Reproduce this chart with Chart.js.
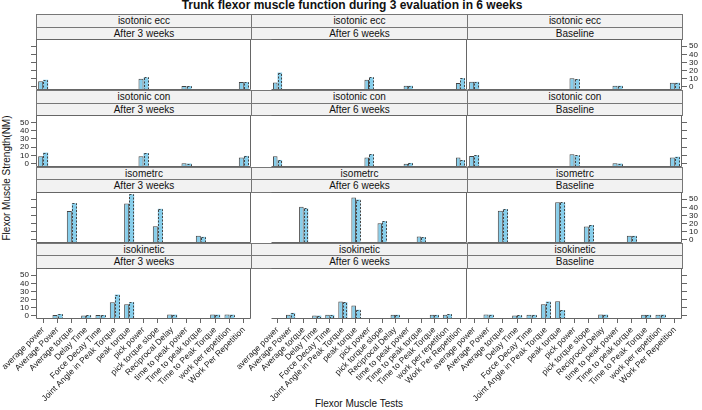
<!DOCTYPE html>
<html><head><meta charset="utf-8">
<script src="https://cdn.jsdelivr.net/npm/chart.js@4.4.0/dist/chart.umd.min.js"></script>
<style>
html,body{margin:0;padding:0;background:#fff;}
#root{position:relative;width:702px;height:410px;overflow:hidden;font-family:"Liberation Sans",Arial,sans-serif;color:#111;}
.strip{position:absolute;box-sizing:border-box;background:#f2f2f2;border:1px solid #777;font-size:10px;text-align:center;white-space:nowrap;}
.cv{position:absolute;}
.lbl{position:absolute;white-space:nowrap;text-align:center;}
</style></head>
<body><div id="root"></div>
<script>
// ---- data ----
const categories = ["average power","Average Power","Average torque","Delay Time","Force Decay Time","Joint Angle in Peak Torque","peak torque","pick power","pick torque slope","Reciprocal Delay","time to peak power","Time to peak torque","Time to Peak Torque","work per repetition","Work Per Repetition"];
const testTypes = ["isotonic ecc","isotonic con","isometrc","isokinetic"];
const evaluations = ["After 3 weeks","After 6 weeks","Baseline"];
const yTicks = [0,10,20,30,40,50];

const isotonicTests = ["average power","pick power","time to peak power","Work Per Repetition"];
const isometricTests = ["Average torque","peak torque","pick torque slope","Time to peak torque"];
const isokineticTests = ["Average Power","Delay Time","Force Decay Time","Joint Angle in Peak Torque","peak torque","Reciprocal Delay","Time to Peak Torque","work per repetition"];

// isotonic ecc
const eccAfter3_g1 = [7, 9.9, 1, 5.8];
const eccAfter3_g2 = [8.7, 11.5, 1, 5.8];
const eccAfter6_g1 = [5.4, 8.7, 1.3, 4.6];
const eccAfter6_g2 = [17.6, 11.5, 1.3, 10.7];
const eccBase_g1 = [6.2, 10.7, 1.3, 5];
const eccBase_g2 = [6.2, 9.5, 1.3, 5];
// isotonic con
const conAfter3_g1 = [9.1, 9, 0.5, 7.5];
const conAfter3_g2 = [13.5, 13, 0.3, 9.5];
const conAfter6_g1 = [9, 7.5, 0, 7.5];
const conAfter6_g2 = [4.6, 11.5, 1, 4.3];
const conBase_g1 = [9.5, 11.5, 0.5, 7.5];
const conBase_g2 = [10.3, 10, 0.3, 8.5];
// isometric
const isoAfter3_g1 = [35.4, 44.7, 16.7, 4.9];
const isoAfter3_g2 = [45, 56, 38.2, 3.7];
const isoAfter6_g1 = [40.6, 52, 20.3, 4];
const isoAfter6_g2 = [38.6, 49.6, 23, 3.3];
const isoBase_g1 = [35.8, 46.3, 16.3, 4.9];
const isoBase_g2 = [37.8, 46, 18.3, 4.9];
// isokinetic
const kinAfter3_g1 = [1, 0.3, 1, 16.8, 14.4, 1.5, 1.5, 1.5];
const kinAfter3_g2 = [2.2, 0.6, 1, 26.2, 16.8, 1.5, 1.5, 1.5];
const kinAfter6_g1 = [1.3, 0.5, 1.2, 17.6, 12.8, 1.3, 1.2, 1.2];
const kinAfter6_g2 = [3.6, 0.3, 1.2, 16.8, 7.5, 1.3, 1.2, 2];
const kinBase_g1 = [1.5, 0.5, 1.2, 14.4, 18, 1.5, 1.2, 1.2];
const kinBase_g2 = [1.5, 0.5, 1.2, 17.6, 7, 1.5, 1.2, 1.5];

const panelTable = [
  [[isotonicTests, eccAfter3_g1, eccAfter3_g2],[isotonicTests, eccAfter6_g1, eccAfter6_g2],[isotonicTests, eccBase_g1, eccBase_g2]],
  [[isotonicTests, conAfter3_g1, conAfter3_g2],[isotonicTests, conAfter6_g1, conAfter6_g2],[isotonicTests, conBase_g1, conBase_g2]],
  [[isometricTests, isoAfter3_g1, isoAfter3_g2],[isometricTests, isoAfter6_g1, isoAfter6_g2],[isometricTests, isoBase_g1, isoBase_g2]],
  [[isokineticTests, kinAfter3_g1, kinAfter3_g2],[isokineticTests, kinAfter6_g1, kinAfter6_g2],[isokineticTests, kinBase_g1, kinBase_g2]]
];
function expand(tests, vals){ return categories.map(c => { const i = tests.indexOf(c); return i < 0 ? null : vals[i]; }); }

// ---- layout ----
const FONT = "'Liberation Sans', Arial, sans-serif";
const colX = [36, 251, 467, 682];
const rowTopF = [14, 90.3, 166.6, 242.9];
const s1 = rowTopF.map(t => Math.round(t));
const s2 = rowTopF.map(t => Math.round(t + 12.5));
const pTop = rowTopF.map(t => Math.round(t + 25));
const pBot = rowTopF.map(t => Math.round(t + 76.3));
const YMIN = -3.9, YMAX = 58.9;
const root = document.getElementById('root');

function addDiv(cls, css, text){ const d = document.createElement('div'); d.className = cls; Object.assign(d.style, css); d.textContent = text; root.appendChild(d); return d; }

addDiv('lbl', {left:'0px', width:'704px', top:'-1px', fontSize:'12px', fontWeight:'bold', lineHeight:'12px'}, 'Trunk flexor muscle function during 3 evaluation in 6 weeks');
addDiv('lbl', {left:'-93px', width:'200px', top:(178-6)+'px', height:'12px', fontSize:'10px', lineHeight:'12px', transform:'rotate(-90deg)'}, 'Flexor Muscle Strength(NM)');
addDiv('lbl', {left:'259px', width:'200px', top:'398px', fontSize:'10px', lineHeight:'12px'}, 'Flexor Muscle Tests');

const framePlugin = { id:'frame', afterDraw(chart, args, opts){ const {ctx, chartArea:a} = chart; ctx.save(); ctx.strokeStyle = '#666'; ctx.lineWidth = 1;
  const L = a.left + 0.5, R = a.right - 0.5, T = a.top + 0.5, B = a.bottom - 0.5;
  ctx.beginPath();
  ctx.moveTo(L, B); ctx.lineTo(R, B); ctx.lineTo(R, T); ctx.lineTo(L, T);
  if (!opts.skipLeft) ctx.lineTo(L, B);
  ctx.stroke(); ctx.restore(); } };
const dashPlugin = { id:'dash', afterDatasetsDraw(chart){
  const {ctx, chartArea:a} = chart; const meta = chart.getDatasetMeta(1); const data = chart.data.datasets[1].data;
  ctx.save(); ctx.beginPath(); ctx.rect(a.left, a.top, a.right-a.left, a.bottom-a.top); ctx.clip();
  ctx.strokeStyle = '#444'; ctx.lineWidth = 1; ctx.setLineDash([2,1.5]);
  meta.data.forEach((el, i) => { if (data[i] == null) return; const p = el.getProps(['x','y','base','width'], true);
    const l = Math.round(p.x - p.width/2), r = Math.round(p.x + p.width/2), t = Math.round(p.y), b = Math.round(p.base);
    ctx.strokeRect(l+0.5, t+0.5, r-l-1, b-t); });
  ctx.restore(); } };

for (let r = 0; r < 4; r++) {
  for (let c = 0; c < 3; c++) {
    const w = colX[c+1] - colX[c];
    addDiv('strip', {left:colX[c]+'px', width:(w+1)+'px', top:s1[r]+'px', height:(s2[r]-s1[r]+1)+'px', lineHeight:(s2[r]-s1[r]-1)+'px'}, testTypes[r]);
    addDiv('strip', {left:colX[c]+'px', width:(w+1)+'px', top:s2[r]+'px', height:(pTop[r]-s2[r]+1)+'px', lineHeight:(pTop[r]-s2[r]-1)+'px'}, evaluations[c]);

    const isBottom = r === 3;
    const extraLeft = (isBottom && c > 0) ? 80 : 0;
    const axisL = c === 0 ? 36 : 0, axisR = c === 2 ? 20 : 0;
    const left = colX[c] - axisL - extraLeft;
    const width = extraLeft + axisL + w + axisR;
    const top = pTop[r];
    const height = isBottom ? 410 - top : pBot[r] - top;
    const xAxisH = isBottom ? 410 - pBot[r] : 0;
    const showLabels = (r % 2 === 0) ? (c === 2) : (c === 0);
    const [tests, g1, g2] = panelTable[r][c];

    const cv = document.createElement('canvas'); cv.className = 'cv';
    cv.width = width; cv.height = height; cv.style.left = left + 'px'; cv.style.top = top + 'px';
    cv.style.width = width + 'px'; cv.style.height = height + 'px';
    root.appendChild(cv);
    new Chart(cv, {
      type: 'bar',
      data: { labels: categories, datasets: [
        { data: expand(tests, g1), base: YMIN, backgroundColor: '#87CEEB', borderColor: '#444', borderWidth: 1, borderSkipped: 'start' },
        { data: expand(tests, g2), base: YMIN, backgroundColor: '#87CEEB', borderWidth: 0 }
      ]},
      options: {
        responsive: false, animation: false, events: [],
        layout: { padding: { left: extraLeft, right: 0, top: 0, bottom: 0 } },
        datasets: { bar: { categoryPercentage: 0.7, barPercentage: 1.0 } },
        plugins: { legend: { display: false }, tooltip: { enabled: false }, frame: { skipLeft: c > 0 } },
        scales: {
          x: { type: 'category', display: isBottom, offset: true,
               grid: { offset: false, drawOnChartArea: false, drawTicks: true, tickLength: 4, color: '#666' },
               border: { display: false },
               ticks: { autoSkip: false, maxRotation: 45, minRotation: 45, padding: 2, color: '#222', font: { size: 8.5, family: FONT } },
               afterFit: s => { s.height = xAxisH; s.paddingLeft = 0; s.paddingRight = 0; } },
          y: { type: 'linear', display: c !== 1, position: c === 2 ? 'right' : 'left', min: YMIN, max: YMAX,
               afterBuildTicks: s => { s.ticks = yTicks.map(v => ({ value: v })); },
               grid: { drawOnChartArea: false, drawTicks: true, tickLength: 5, color: '#666' },
               border: { display: false },
               ticks: { display: showLabels, autoSkip: false, padding: 2, color: '#222', font: { size: 8, family: FONT, lineHeight: 1 } },
               afterFit: s => { s.width = c === 0 ? 36 : 20; s.paddingTop = 0; s.paddingBottom = 0; } }
        }
      },
      plugins: [dashPlugin, framePlugin]
    });
  }
}
</script>
</body></html>
